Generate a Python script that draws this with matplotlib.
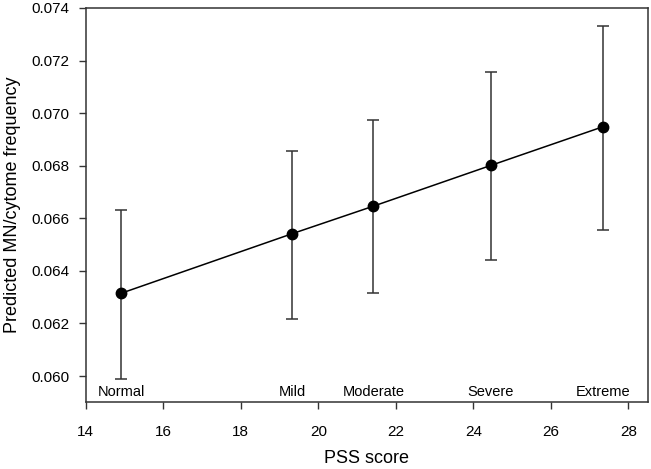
import matplotlib
matplotlib.use('Agg')
import matplotlib.pyplot as plt

plt.rcParams['font.family'] = ['Liberation Sans', 'DejaVu Sans']

# Data
pss = [14.92, 19.32, 21.42, 24.45, 27.34]
predicted = [0.06315, 0.06541, 0.06646, 0.06801, 0.06948]
upper = [0.06631, 0.06857, 0.06973, 0.07157, 0.07333]
lower = [0.05989, 0.06218, 0.06315, 0.06443, 0.06557]
categories = ['Normal', 'Mild', 'Moderate', 'Severe', 'Extreme']

err_low = [p - l for p, l in zip(predicted, lower)]
err_high = [u - p for p, u in zip(predicted, upper)]

fig = plt.figure(figsize=(6.51, 4.69), dpi=100)
ax = fig.add_axes([0.1316, 0.1422, 0.8634, 0.8408])

ax.errorbar(pss, predicted, yerr=[err_low, err_high], fmt='none',
            ecolor='#333333', elinewidth=1.1, capsize=4.5, capthick=1.1)
ax.plot(pss, predicted, color='black', lw=1.1, marker='o',
        markersize=7.5, markerfacecolor='black', zorder=3)

for xp, name in zip(pss, categories):
    ax.text(xp, 0.05913, name, ha='center', va='bottom', fontsize=10.5)

ax.set_xlim(14, 28.5)
ax.set_ylim(0.059, 0.074)
ax.set_xticks(range(14, 29, 2))
ax.set_yticks([0.060, 0.062, 0.064, 0.066, 0.068, 0.070, 0.072, 0.074])
ax.set_yticklabels(['%.3f' % v for v in ax.get_yticks()])

for sp in ax.spines.values():
    sp.set_color('#333333')
    sp.set_linewidth(1.1)
ax.tick_params(direction='out', length=5, width=1, color='#333333',
               labelsize=11)
ax.tick_params(axis='x', pad=11)
ax.tick_params(axis='y', pad=7)

ax.set_xlabel('PSS score', fontsize=13, labelpad=8)
ax.set_ylabel('Predicted MN/cytome frequency', fontsize=13, labelpad=7)

fig.savefig('out.png', dpi=100)
